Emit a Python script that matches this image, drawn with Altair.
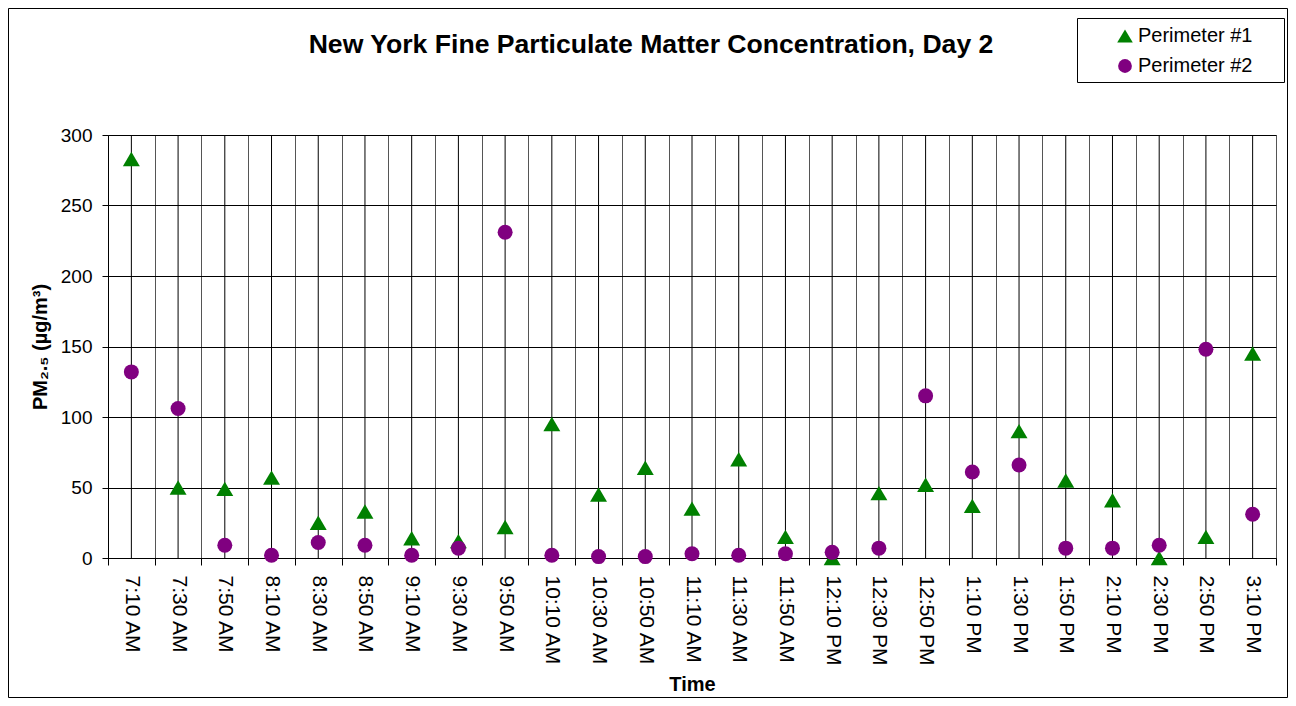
import altair as alt
import pandas as pd

times = ["7:10 AM", "7:30 AM", "7:50 AM", "8:10 AM", "8:30 AM", "8:50 AM", "9:10 AM",
         "9:30 AM", "9:50 AM", "10:10 AM", "10:30 AM", "10:50 AM", "11:10 AM", "11:30 AM",
         "11:50 AM", "12:10 PM", "12:30 PM", "12:50 PM", "1:10 PM", "1:30 PM", "1:50 PM",
         "2:10 PM", "2:30 PM", "2:50 PM", "3:10 PM"]
perimeter1 = [283, 50, 49, 57, 25, 33, 14, 12, 22, 95, 45, 64, 35, 70, 15, 0, 46, 52, 37,
              90, 55, 41, 0, 15, 145]
perimeter2 = [132, 106, 9, 2, 11, 9, 2, 7, 231, 2, 1, 1, 3, 2, 3, 4, 7, 115, 61, 66, 7, 7,
              9, 148, 31]
series_names = ["Perimeter #1", "Perimeter #2"]
series_colors = ["#008000", "#800080"]
y_ticks = [0, 50, 100, 150, 200, 250, 300]
title_text = ["New York Fine Particulate Matter Concentration, Day 2"]

TRI = "M0,-0.96L1.13,0.96L-1.13,0.96Z"
FONT = "Liberation Sans"

rows = []
for t, a, b in zip(times, perimeter1, perimeter2):
    rows.append({"Time": t, "Series": series_names[0], "Value": a})
    rows.append({"Time": t, "Series": series_names[1], "Value": b})
df = pd.DataFrame(rows)
tdf = pd.DataFrame({"Time": times})
one = pd.DataFrame({"k": [0]})

xenc = alt.X(
    "Time:N", sort=times,
    scale=alt.Scale(domain=times, paddingInner=0, paddingOuter=0),
    axis=alt.Axis(
        title="Time", labelAngle=90, labelAlign="left", labelBaseline="middle",
        labelFontSize=21, labelFont=FONT, labelColor="black", labelPadding=10,
        tickBand="extent", ticks=True, tickSize=7, tickColor="black",
        grid=True, gridColor="#555555", gridWidth=1, domainColor="black",
        titleFontSize=20, titleFont=FONT, titleFontWeight="bold", titleColor="black",
        titleX=584, titleY=126, titleBaseline="middle", titleAlign="center",
    ),
)
yenc = alt.Y(
    "Value:Q",
    scale=alt.Scale(domain=[0, 300], nice=False, zero=True),
    axis=alt.Axis(
        values=y_ticks, title="PM₂.₅ (µg/m³)", labelFontSize=19, labelFont=FONT,
        labelColor="black", labelPadding=10, tickColor="black", tickSize=6,
        domainColor="black", gridColor="black", gridWidth=1,
        titleFontSize=20, titleFont=FONT, titleFontWeight="bold", titleColor="black",
        titleX=-68, titleY=211.5, titleBaseline="middle", titleAlign="center",
    ),
)

border = alt.Chart(one).mark_rect(fill="white", fillOpacity=0, stroke="black", strokeWidth=1).encode(
    x=alt.value(-99.5), x2=alt.value(1179.5), y=alt.value(-126.5), y2=alt.value(562.5))

legend_box = alt.Chart(one).mark_rect(fill="white", stroke="black", strokeWidth=1).encode(
    x=alt.value(969.5), x2=alt.value(1176.5), y=alt.value(-116.5), y2=alt.value(-52.5))

center_rules = alt.Chart(tdf).mark_rule(color="black", strokeWidth=1).encode(
    x=alt.X("Time:N", sort=times))

points = alt.Chart(df).mark_point(filled=True, opacity=1, strokeWidth=0, size=225).encode(
    x=xenc,
    y=yenc,
    color=alt.Color("Series:N", scale=alt.Scale(domain=series_names, range=series_colors),
                    legend=alt.Legend(title=None)),
    shape=alt.Shape("Series:N", scale=alt.Scale(domain=series_names, range=[TRI, "circle"]),
                    legend=alt.Legend(title=None)),
)

title = alt.Chart(pd.DataFrame({"t": title_text})).mark_text(
    font=FONT, fontSize=26.6, fontWeight="bold", color="black", align="center",
    baseline="alphabetic").encode(text="t:N", x=alt.value(543), y=alt.value(-82))

chart = alt.layer(border, legend_box, center_rules, points, title).properties(
    width=1168, height=423,
    autosize="none",
    padding={"left": 100, "top": 127, "right": 12, "bottom": 140},
).configure_view(
    stroke="#808080", strokeWidth=1
).configure_legend(
    orient="none", legendX=1007, legendY=-109, padding=0, symbolSize=190,
    labelFontSize=20, labelFont=FONT, labelColor="black", rowPadding=10,
    labelOffset=3, symbolStrokeWidth=0,
)

chart.save("out.html", embed_options={"renderer": "svg", "actions": False})
